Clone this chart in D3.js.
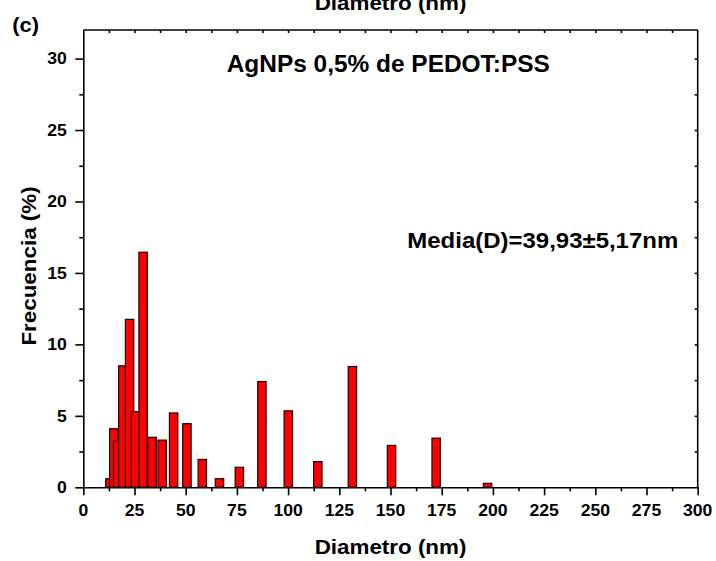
<!DOCTYPE html>
<html>
<head>
<meta charset="utf-8">
<script src="https://cdn.jsdelivr.net/npm/d3@7"></script>
<style>
  html, body { margin: 0; padding: 0; background: #fff; }
  svg { display: block; font-family: "Liberation Sans", Arial, sans-serif; font-weight: bold; }
</style>
</head>
<body>
<svg id="chart" width="716" height="561"></svg>
<script>
// ---- data ----
const binCenters = [13.0, 14.9, 16.8, 19.3, 22.6, 25.5, 29.2, 33.6, 38.5, 44.1, 50.6, 58.1, 66.5, 76.2, 87.2, 100.1, 114.5, 131.4, 150.5, 172.3, 197.4];
const frequencies = [0.6, 4.1, 3.25, 8.5, 11.75, 5.3, 16.45, 3.5, 3.3, 5.2, 4.45, 1.95, 0.6, 1.4, 7.4, 5.35, 1.8, 8.45, 2.93, 3.44, 0.28];
const binWidth = 4.1;
const xTicks = [0, 25, 50, 75, 100, 125, 150, 175, 200, 225, 250, 275, 300];
const xMinorTicks = [12.5, 37.5, 62.5, 87.5, 112.5, 137.5, 162.5, 187.5, 212.5, 237.5, 262.5, 287.5];
const yTicks = [0, 5, 10, 15, 20, 25, 30];
const yMinorTicks = [2.5, 7.5, 12.5, 17.5, 22.5, 27.5];
const xLabel = "Diametro (nm)";
const yLabel = "Frecuencia (%)";
const panelLabel = "(c)";
const titleText = "AgNPs 0,5% de PEDOT:PSS";
const meanText = "Media(D)=39,93±5,17nm";

// ---- layout ----
const L = 83.3, R = 697.7, T = 30, B = 487.3;
const svg = d3.select("#chart");
const x = d3.scaleLinear().domain([0, 300]).range([L, R]);
const y = d3.scaleLinear().domain([0, 32]).range([B, T]);

// bars
const bars = binCenters.map((c, i) => ({ c, v: frequencies[i] }));
svg.append("g").selectAll("rect").data(bars).join("rect")
  .attr("x", d => x(d.c - binWidth / 2))
  .attr("width", d => x(d.c + binWidth / 2) - x(d.c - binWidth / 2))
  .attr("y", d => y(d.v))
  .attr("height", d => y(0) - y(d.v))
  .attr("fill", "#ff0000")
  .attr("stroke", "#1a0000")
  .attr("stroke-width", 1.2);

function styleAxis(g) {
  g.selectAll("path.domain").attr("stroke", "#000").attr("stroke-width", 1.6);
  g.selectAll(".tick line").attr("stroke", "#000").attr("stroke-width", 1.6);
}
const tickFont = 16, tickSx = 1.1;

// bottom axis
const gxb = svg.append("g").attr("transform", `translate(0,${B})`)
  .call(d3.axisBottom(x).tickValues(xTicks).tickSize(8).tickSizeOuter(0).tickFormat(""));
styleAxis(gxb);
svg.append("g").attr("transform", `translate(0,${B})`)
  .call(d3.axisBottom(x).tickValues(xMinorTicks).tickSize(4).tickFormat(""))
  .call(g => { g.select("path.domain").remove(); styleAxis(g); });
svg.append("g").selectAll("text").data(xTicks).join("text")
  .attr("transform", d => `translate(${x(d)},516) scale(${tickSx},1)`)
  .attr("text-anchor", "middle")
  .attr("font-size", tickFont)
  .text(d => d);

// left axis
const gyl = svg.append("g").attr("transform", `translate(${L},0)`)
  .call(d3.axisLeft(y).tickValues(yTicks).tickSize(8).tickSizeOuter(0).tickFormat(""));
styleAxis(gyl);
svg.append("g").attr("transform", `translate(${L},0)`)
  .call(d3.axisLeft(y).tickValues(yMinorTicks).tickSize(4).tickFormat(""))
  .call(g => { g.select("path.domain").remove(); styleAxis(g); });
svg.append("g").selectAll("text").data(yTicks).join("text")
  .attr("transform", d => `translate(${L - 16.5},${y(d) + 5.8}) scale(${tickSx},1)`)
  .attr("text-anchor", "end")
  .attr("font-size", tickFont)
  .text(d => d);

// top axis (inward ticks)
svg.append("g").attr("transform", `translate(0,${T})`)
  .call(d3.axisBottom(x).tickValues(xTicks.concat(xMinorTicks).filter(v => v > 0 && v < 300)).tickSize(3).tickSizeOuter(0).tickFormat(""))
  .call(g => { g.select("path.domain").remove(); styleAxis(g); });
// right axis (inward ticks)
svg.append("g").attr("transform", `translate(${R},0)`)
  .call(d3.axisLeft(y).tickValues(yTicks.concat(yMinorTicks).filter(v => v > 0)).tickSize(3).tickSizeOuter(0).tickFormat(""))
  .call(g => { g.select("path.domain").remove(); styleAxis(g); });

// frame
svg.append("line").attr("x1", L).attr("x2", R).attr("y1", T).attr("y2", T).attr("stroke", "#000").attr("stroke-width", 1.6);
svg.append("line").attr("x1", R).attr("x2", R).attr("y1", T).attr("y2", B).attr("stroke", "#000").attr("stroke-width", 1.6);

function txt(str, tx, ty, fs, sx, anchor, rot) {
  svg.append("text")
    .attr("transform", `translate(${tx},${ty})` + (rot ? ` rotate(${rot})` : "") + ` scale(${sx},1)`)
    .attr("text-anchor", anchor)
    .attr("font-size", fs)
    .attr("fill", "#000")
    .text(str);
}
const cx = (L + R) / 2;
txt(xLabel, cx, 554, 20, 1.12, "middle");
txt(xLabel, cx, 9.5, 20, 1.12, "middle");   // top copy, cut off at the edge as in the reference
txt(yLabel, 36, 266, 20, 1.12, "middle", -90);
txt(panelLabel, 12.3, 32, 20, 1.1, "start");
txt(titleText, 226.7, 72.3, 23.5, 1.04, "start");
txt(meanText, 407.3, 248.3, 22, 1.09, "start");
</script>
</body>
</html>
